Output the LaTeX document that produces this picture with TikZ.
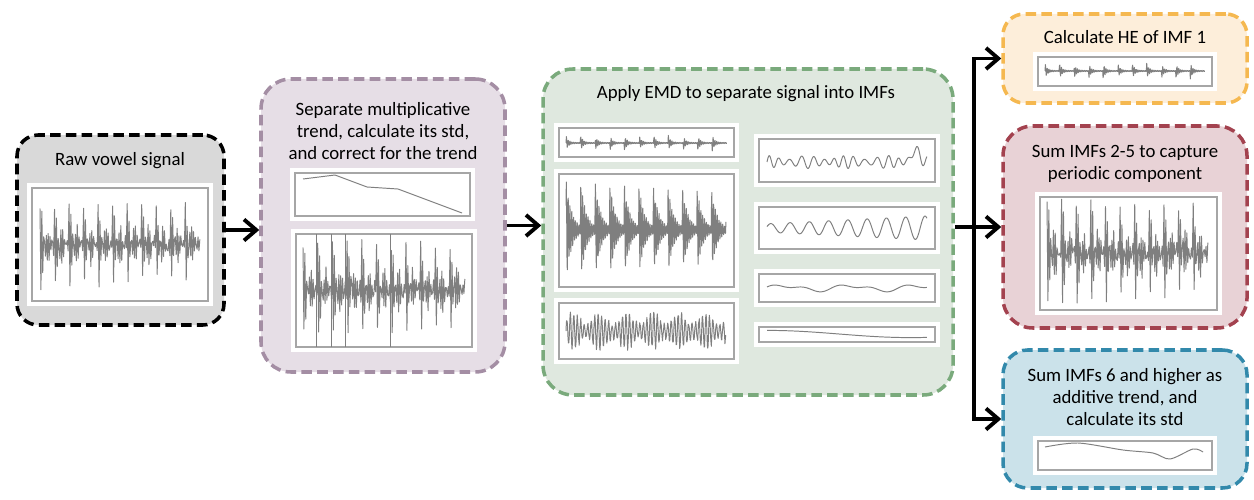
\documentclass[tikz,border=0pt]{standalone}
\usepackage{fontspec}
\setmainfont{Carlito}
\usetikzlibrary{positioning, arrows.meta, fit, calc}
\definecolor{rawFill}{HTML}{D9D9D9}
\definecolor{trendFill}{HTML}{E6DEE6}
\definecolor{trendEdge}{HTML}{A48EA4}
\definecolor{emdFill}{HTML}{DFE8DF}
\definecolor{emdEdge}{HTML}{7AAA7C}
\definecolor{heFill}{HTML}{FDEEDA}
\definecolor{heEdge}{HTML}{F5B850}
\definecolor{perFill}{HTML}{E8D2D6}
\definecolor{perEdge}{HTML}{A3424F}
\definecolor{addFill}{HTML}{CBE2EA}
\definecolor{addEdge}{HTML}{3289AB}
\definecolor{sigGray}{HTML}{7F7F7F}
\definecolor{frameGray}{HTML}{A6A6A6}
\newcommand{\panel}[4]{\fill[white] ($(#1,#2)+(-5,-5)$) rectangle ($(#3,#4)+(5,5)$);
  \draw[frame] (#1,#2) rectangle (#3,#4);}
\newcommand{\wave}[6]{\draw[sig] plot[domain=0:1, samples=#6, variable=\t] ({#1+#2*\t},{#3-#4*#5(\t)});}

\begin{document}
\begin{tikzpicture}[x=0.02cm, y=-0.02cm,
      stage/.style={line width=2pt, dash pattern=on 6pt off 3pt, rounded corners=17pt, inner sep=0pt},
      title/.style={align=center, font=\fontsize{10.7}{12.5}\selectfont},
      frame/.style={draw=frameGray, line width=0.7pt},
      sig/.style={draw=sigGray, line width=0.55pt, line join=round},
      arr/.style={-{Straight Barb[length=7pt, width=12pt]}, line width=2.2pt},
      declare function={
        ph(\t)=mod(\t*11+0.01,1);
        vow(\t)=(1-0.15*\t)*(exp(-1.8*ph(\t))*cos(360*7*ph(\t))+0.12*rand);
        imfa(\t)=(0.06+0.94*exp(-6*ph(\t)))*sin(360*mod(90*\t,1));
        imfb(\t)=(1-0.2*\t)*exp(-2.5*ph(\t))*sin(360*8*ph(\t));
        imfc(\t)=(0.6+0.25*sin(360*6*\t)+0.15*rand)*sin(360*mod(46*\t,1));
        imfd(\t)=0.5*sin(360*15*\t+60*sin(360*2.3*\t))*(0.7+0.3*cos(360*4*\t))+0.9*exp(-(\t-0.93)*(\t-0.93)/0.0012);
        imfe(\t)=(0.35+0.65*\t)*sin(360*8.3*\t+20);
        imff(\t)=0.6*sin(360*2.4*\t)+0.4*sin(360*4.8*\t+40);
        imfg(\t)=0.9*cos(200*\t);
      }]
    \pgfmathsetseed{17}
    \useasboundingbox (0,0) rectangle (1254,500);
    \node[stage, draw=black, fill=rawFill, rounded corners=12pt, fit={(17,135) (224,325)}] (raw) {};
    \node[stage, draw=trendEdge, fill=trendFill, fit={(261,79) (505,372)}] (trend) {};
    \node[stage, draw=emdEdge, fill=emdFill, fit={(543,69) (953,395)}] (emd) {};
    \node[stage, draw=heEdge, fill=heFill, rounded corners=12pt, fit={(1003,14) (1247,103)}] (he) {};
    \node[stage, draw=perEdge, fill=perFill, fit={(1003,126) (1247,328)}] (per) {};
    \node[stage, draw=addEdge, fill=addFill, rounded corners=14pt, fit={(1003,350) (1247,488)}] (add) {};
    \node[title] (rawT) at (120,161) {Raw vowel signal};
    \node[title] (trendT) at (383,131) {Separate multiplicative\\trend, calculate its std,\\and correct for the trend};
    \node[title] (emdT) at (746,94) {Apply EMD to separate signal into IMFs};
    \node[title] (heT) at (1125,37) {Calculate HE of IMF 1};
    \node[title] (perT) at (1125,164) {Sum IMFs 2-5 to capture\\periodic component};
    \node[title] (addT) at (1125,397) {Sum IMFs 6 and higher as\\additive trend, and\\calculate its std};
    % raw signal
    \panel{32}{188}{208}{301}
    \wave{40}{160}{245}{45}{vow}{177}
    % multiplicative trend
    \panel{295}{173}{470}{216}
    \draw[sig] (303,179) -- (335,175) -- (367,187) -- (398,189) -- (430,201) -- (462,213);
    \panel{296}{234}{472}{347}
    \begin{scope}
      \clip (296,234) rectangle (472,347);
      \wave{303}{162}{290}{50}{vow}{177}
      \foreach \vx in {316,331,345,390} \draw[sig] (\vx,234) -- (\vx,347);
    \end{scope}
    % IMFs
    \panel{559}{128}{734}{157}
    \wave{566}{161}{143}{8}{imfa}{400}
    \panel{559}{174}{734}{287}
    \wave{566}{160}{230}{52}{imfb}{500}
    \panel{559}{303}{734}{359}
    \wave{566}{160}{331}{20}{imfc}{400}
    \panel{759}{139}{935}{182}
    \wave{767}{160}{162}{13}{imfd}{300}
    \panel{759}{207}{935}{249}
    \wave{767}{160}{228}{12}{imfe}{300}
    \panel{759}{274}{935}{302}
    \wave{767}{160}{288}{4}{imff}{200}
    \panel{759}{327}{935}{342}
    \wave{767}{160}{334}{4}{imfg}{200}
    % outputs
    \panel{1038}{57}{1212}{86}
    \wave{1045}{160}{71}{8}{imfa}{400}
    \panel{1040}{197}{1217}{310}
    \begin{scope}
      \clip (1040,197) rectangle (1217,310);
      \wave{1047}{161}{253}{54}{vow}{177}
    \end{scope}
    \panel{1038}{441}{1212}{470}
    \draw[sig] plot[smooth] coordinates {(1045,447) (1078,443) (1123,450) (1153,453) (1170,459) (1193,449) (1203,452)};
    \draw[arr] (raw.east) -- (raw.east -| trend.west);
    \draw[arr] (trend.east) -- (trend.east -| emd.west);
    \coordinate (split) at ($(per.west)+(-27,0)$);
    \draw[arr] (emd.east |- per.west) -- (per.west);
    \draw[arr] (split) |- (he.west);
    \draw[arr] (split) |- (add.west);
  \end{tikzpicture}
\end{document}
